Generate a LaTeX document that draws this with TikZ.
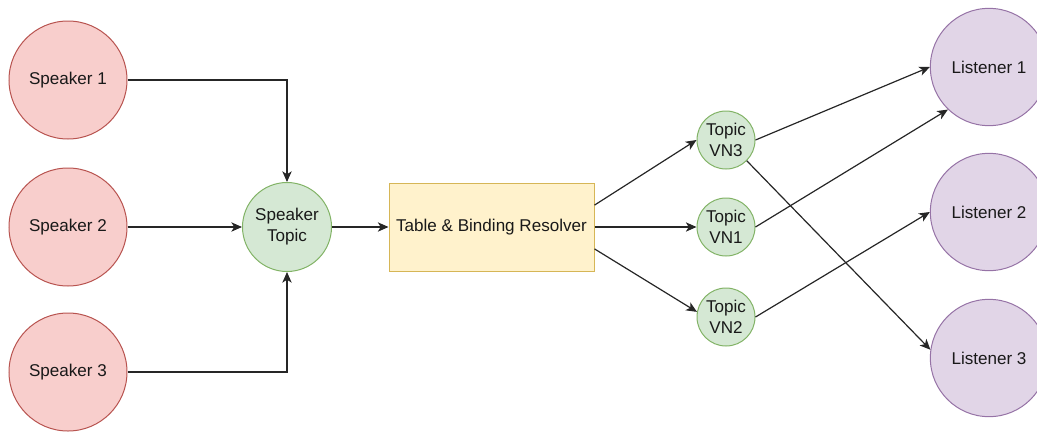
\documentclass[tikz,border=0pt]{standalone}
\usepackage{fontspec}
\setmainfont{Liberation Sans}
\usetikzlibrary{arrows.meta}
\definecolor{spkfill}{HTML}{F8CECC}
\definecolor{spkline}{HTML}{B85450}
\definecolor{topfill}{HTML}{D5E8D4}
\definecolor{topline}{HTML}{82B366}
\definecolor{resfill}{HTML}{FFF2CC}
\definecolor{resline}{HTML}{D6B656}
\definecolor{lsnfill}{HTML}{E1D5E7}
\definecolor{lsnline}{HTML}{9673A6}
\begin{document}
\begin{tikzpicture}[x=0.75pt,y=-0.75pt,
  every node/.style={font=\fontsize{12.8}{15.75}\selectfont,text=black!90},
  speaker/.style={circle,draw=spkline,fill=spkfill,line width=0.75pt,inner sep=0pt,minimum size=88.5pt},
  topic/.style={circle,draw=topline,fill=topfill,line width=0.75pt,inner sep=0pt,align=center},
  listener/.style={circle,draw=lsnline,fill=lsnfill,line width=0.75pt,inner sep=0pt,minimum size=88pt},
  resolver/.style={rectangle,draw=resline,fill=resfill,line width=0.75pt,minimum width=153.75pt,minimum height=66pt},
  link/.style={-{Stealth[length=8pt,width=7pt,inset=2.2pt]},line width=0.9pt,draw=black!85}]
\useasboundingbox (0,0) rectangle (1037,432);
\foreach \n/\y in {1/80,2/227,3/372}\node[speaker] (s\n) at (68,\y) {Speaker \n};
\foreach \n/\y in {1/67,2/212,3/358}\node[listener] (l\n) at (989,\y) {Listener \n};
\node[topic,minimum size=66.75pt] (st) at (287,227) {Speaker\\Topic};
\node[resolver] (tb) at (491.5,227) {Table \& Binding Resolver};
\node[topic,minimum size=43.5pt] (vn3) at (726,140) {Topic\\VN3};
\node[topic,minimum size=43.5pt] (vn1) at (726,227) {Topic\\VN1};
\node[topic,minimum size=43.5pt] (vn2) at (726,317) {Topic\\VN2};
% speakers into the topic
\draw[link] (s1) -| (st);
\draw[link] (s2) -- (st);
\draw[link] (s3) -| (st);
\draw[link] (st) -- (tb);
% resolver fans out
\draw[link] (tb.12) -- (vn3.west);
\draw[link] (tb.east) -- (vn1.west);
\draw[link] (tb.-12) -- (vn2.170);
% virtual topics to listeners
\draw[link] (vn3.east) -- (l1.west);
\draw[link] (vn1.east) -- (l1.226);
\draw[link] (vn2.east) -- (l2.west);
\draw[link] (vn3.-45) -- (l3.172);
\end{tikzpicture}
\end{document}
